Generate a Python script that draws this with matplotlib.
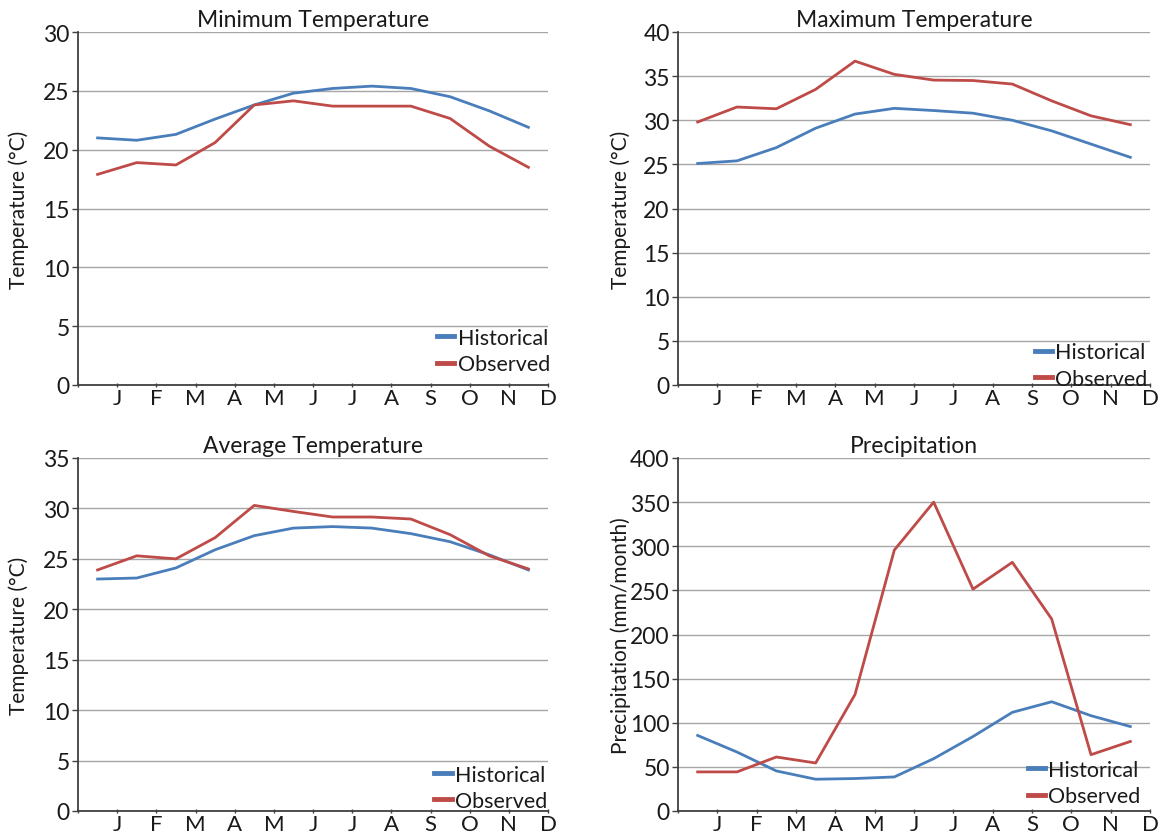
import matplotlib
matplotlib.use("Agg")
import matplotlib.pyplot as plt

plt.rcParams['font.family'] = ['Lato', 'DejaVu Sans']

months = ["J", "F", "M", "A", "M", "J", "J", "A", "S", "O", "N", "D"]

min_hist = [21.0, 20.8, 21.3, 22.6, 23.8, 24.8, 25.2, 25.4, 25.2, 24.5, 23.3, 21.9]
min_obs = [17.9, 18.9, 18.7, 20.6, 23.8, 24.15, 23.7, 23.7, 23.7, 22.65, 20.3, 18.5]

max_hist = [25.1, 25.4, 26.9, 29.1, 30.7, 31.35, 31.1, 30.8, 30.0, 28.8, 27.3, 25.8]
max_obs = [29.8, 31.5, 31.3, 33.5, 36.7, 35.2, 34.55, 34.5, 34.1, 32.2, 30.5, 29.5]

avg_hist = [23.0, 23.1, 24.1, 25.9, 27.3, 28.05, 28.2, 28.05, 27.5, 26.7, 25.4, 23.9]
avg_obs = [23.9, 25.3, 25.0, 27.1, 30.3, 29.7, 29.15, 29.15, 28.95, 27.4, 25.3, 24.0]

pr_hist = [85.6, 66.8, 45.4, 36.0, 36.8, 38.6, 59.3, 84.4, 111.8, 123.8, 108.0, 95.7]
pr_obs = [44.3, 44.3, 61.2, 54.4, 132.0, 295.7, 350.0, 251.4, 281.8, 217.6, 63.8, 78.8]

BLUE = "#4a7ebb"
RED = "#be4b48"

fig = plt.figure(figsize=(11.64, 8.37), dpi=100)

W, H = 1164, 837
def axes_px(x0, x1, ytop, ybot):
    return fig.add_axes([x0 / W, 1 - ybot / H, (x1 - x0) / W, (ybot - ytop) / H])

panels = [
    dict(box=(78, 548, 33, 386), title="Minimum Temperature", ylabel="Temperature (°C)",
         hist=min_hist, obs=min_obs, ymax=30, step=5, leg=(1.004, 0.031), labx=-0.105),
    dict(box=(678, 1150, 33, 386), title="Maximum Temperature", ylabel="Temperature (°C)",
         hist=max_hist, obs=max_obs, ymax=40, step=5, leg=(0.995, -0.011), labx=-0.10),
    dict(box=(78, 548, 459, 812), title="Average Temperature", ylabel="Temperature (°C)",
         hist=avg_hist, obs=avg_obs, ymax=35, step=5, leg=(0.998, 0.0), labx=-0.105),
    dict(box=(678, 1150, 459, 812), title="Precipitation", ylabel="Precipitation (mm/month)",
         hist=pr_hist, obs=pr_obs, ymax=400, step=50, leg=(0.98, 0.013), labx=-0.10),
]

xs = [i + 0.5 for i in range(12)]

for p in panels:
    ax = axes_px(*p["box"])
    ax.plot(xs, p["hist"], color=BLUE, lw=2.0, label="Historical", solid_joinstyle="round")
    ax.plot(xs, p["obs"], color=RED, lw=2.0, label="Observed", solid_joinstyle="round")
    ax.set_xlim(0, 12)
    ax.set_ylim(0, p["ymax"])
    yt = list(range(0, p["ymax"] + 1, p["step"]))
    ax.set_yticks(yt)
    ax.set_xticks(range(0, 13))
    ax.set_xticklabels([""] + months)
    ax.grid(axis="y", color="#a6a6a6", lw=1.0)
    ax.set_axisbelow(True)
    for s in ("top", "right"):
        ax.spines[s].set_visible(False)
    for s in ("left", "bottom"):
        ax.spines[s].set_color("#404040")
        ax.spines[s].set_linewidth(1.3)
    ax.tick_params(axis="y", length=4, width=1, color="#404040", labelsize=16.5, pad=2, labelcolor="#1a1a1a")
    ax.tick_params(axis="x", length=3, width=1, color="#404040", direction="inout", labelsize=16, pad=1, labelcolor="#1a1a1a")
    ax.set_title(p["title"], fontsize=16.5, pad=4, color="#1a1a1a")
    ax.set_ylabel(p["ylabel"], fontsize=15, color="#1a1a1a")
    ax.yaxis.set_label_coords(p["labx"], 0.5)
    leg = ax.legend(loc="lower right", bbox_to_anchor=p["leg"], frameon=False,
                    fontsize=15.5, handlelength=0.8, handletextpad=0.15,
                    labelspacing=0.3, borderpad=0, borderaxespad=0)
    for line in leg.get_lines():
        line.set_linewidth(3.5)
    for t in leg.get_texts():
        t.set_color("#1a1a1a")

fig.savefig("out.png", dpi=100)
